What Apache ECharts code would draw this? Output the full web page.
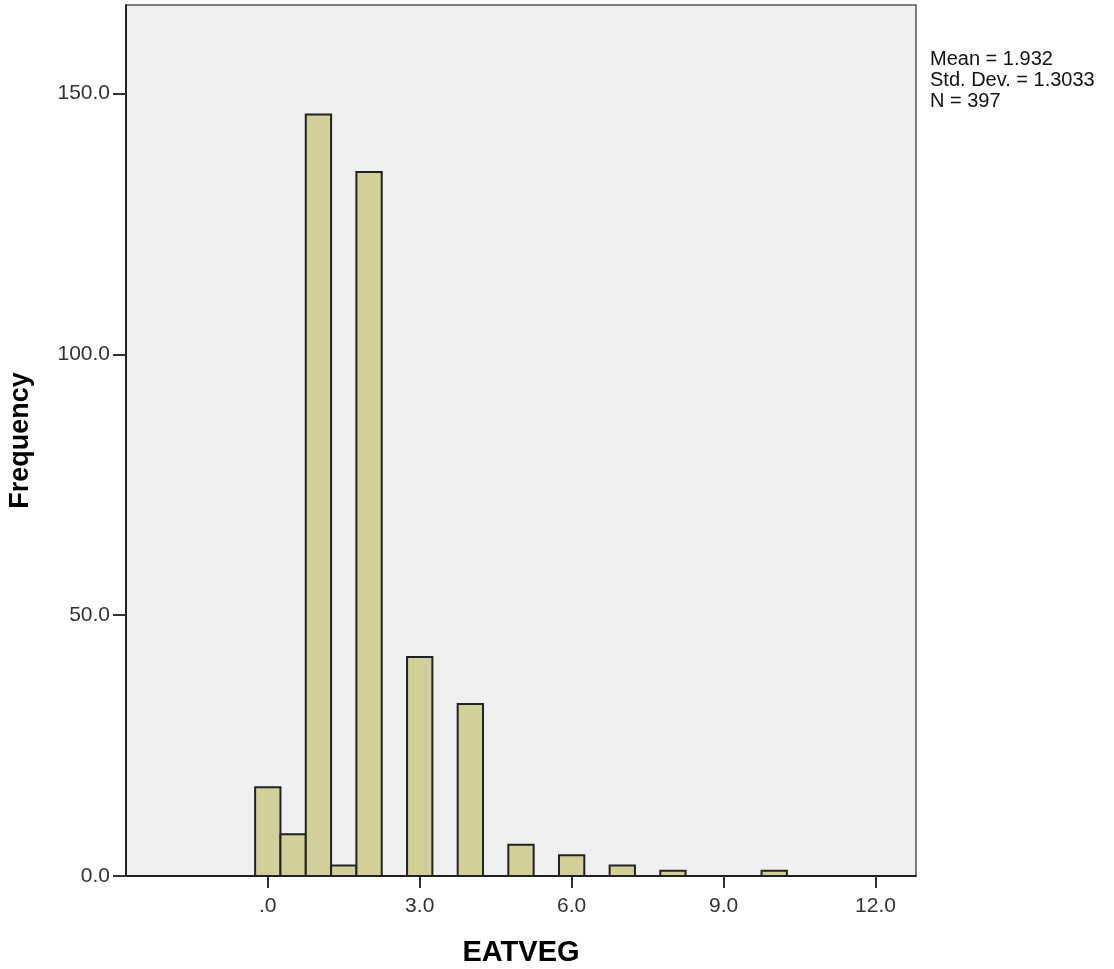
<!DOCTYPE html>
<html>
<head>
<meta charset="utf-8">
<script src="https://cdn.jsdelivr.net/npm/echarts@6/dist/echarts.min.js"></script>
<style>
html,body{margin:0;padding:0;background:#fff;}
#chart{width:1114px;height:969px;}
</style>
</head>
<body>
<div id="chart"></div>
<script>
// Histogram data (bin centres and counts)
const binCenters = [0, 0.5, 1, 1.5, 2, 3, 4, 5, 6, 7, 8, 10];
const frequencies = [17, 8, 146, 2, 135, 42, 33, 6, 4, 2, 1, 1];
const binWidth = 0.5;
const xTicks = [0, 3, 6, 9, 12];
const xTickLabels = ['.0', '3.0', '6.0', '9.0', '12.0'];
const yTicks = [0, 50, 100, 150];
const yTickLabels = ['0.0', '50.0', '100.0', '150.0'];
const statsLines = ['Mean = 1.932', 'Std. Dev. = 1.3033', 'N = 397'];
const xName = 'EATVEG';
const yName = 'Frequency';

const data = binCenters.map((c, i) => [c, frequencies[i]]);
const chart = echarts.init(document.getElementById('chart'));
const font = 'Arial, "Liberation Sans", sans-serif';

chart.setOption({
  animation: false,
  backgroundColor: '#ffffff',
  grid: {
    left: 126, top: 5, right: 198, bottom: 93,
    outerBoundsMode: 'none', containLabel: false,
    show: true, backgroundColor: '#f0f0f0',
    borderColor: '#555555', borderWidth: 1.5
  },
  xAxis: {
    type: 'value', min: -2.8, max: 12.8,
    name: xName, nameLocation: 'middle', nameGap: 62,
    nameTextStyle: {fontFamily: font, fontWeight: 'bold', fontSize: 29, color: '#000'},
    axisLine: {show: true, onZero: false, lineStyle: {color: '#000', width: 1.5}},
    axisTick: {show: true, length: 12, customValues: xTicks, lineStyle: {color: '#333', width: 2}},
    axisLabel: {
      customValues: xTicks, margin: 20,
      formatter: v => xTickLabels[xTicks.indexOf(v)],
      fontFamily: font, fontSize: 21, color: '#333'
    },
    splitLine: {show: false}
  },
  yAxis: {
    type: 'value', min: 0, max: 167,
    name: yName, nameLocation: 'middle', nameGap: 92,
    nameTextStyle: {fontFamily: font, fontWeight: 'bold', fontSize: 27, color: '#000'},
    axisLine: {show: true, onZero: false, lineStyle: {color: '#000', width: 1.5}},
    axisTick: {show: true, length: 13, customValues: yTicks, lineStyle: {color: '#333', width: 2}},
    axisLabel: {
      customValues: yTicks, margin: 16,
      formatter: v => yTickLabels[yTicks.indexOf(v)],
      fontFamily: font, fontSize: 21, color: '#333'
    },
    splitLine: {show: false}
  },
  series: [{
    type: 'custom',
    data: data,
    renderItem: function (params, api) {
      const x = api.value(0), v = api.value(1);
      const p0 = api.coord([x - binWidth / 2, v]);
      const p1 = api.coord([x + binWidth / 2, 0]);
      return {
        type: 'rect',
        shape: {x: p0[0], y: p0[1], width: p1[0] - p0[0], height: p1[1] - p0[1]},
        style: {fill: '#d3cf98', stroke: '#222222', lineWidth: 2}
      };
    }
  }],
  graphic: [{
    type: 'text', left: 930, top: 49,
    style: {
      text: statsLines.join('\n'),
      font: '20px ' + font, lineHeight: 21, fill: '#111'
    }
  }]
});
</script>
</body>
</html>
